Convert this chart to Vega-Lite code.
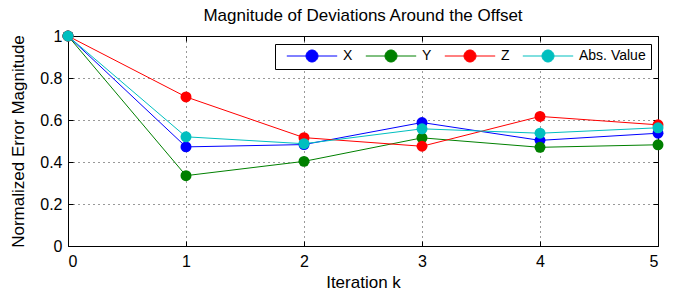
{
  "$schema": "https://vega.github.io/schema/vega-lite/v6.json",
  "width": 590,
  "height": 210,
  "autosize": {"type": "none"},
  "padding": {"left": 68, "top": 36, "right": 20, "bottom": 47},
  "background": "white",
  "title": {"text": "Magnitude of Deviations Around the Offset", "font": "Liberation Sans", "fontSize": 17, "fontWeight": "normal", "color": "black", "offset": 3},
  "config": {
    "view": {"stroke": "black", "strokeWidth": 1},
    "axis": {"labelFont": "Liberation Sans", "titleFont": "Liberation Sans", "labelFontSize": 16, "titleFontSize": 17, "titleFontWeight": "normal", "labelColor": "black", "titleColor": "black", "domainColor": "black", "tickColor": "black", "gridColor": "black", "gridDash": [1, 4], "gridOpacity": 0.8, "tickSize": -5, "domain": false}
  },
  "data": {"values": [
    {"k": 0, "s": "X", "v": 1}, {"k": 1, "s": "X", "v": 0.472}, {"k": 2, "s": "X", "v": 0.483}, {"k": 3, "s": "X", "v": 0.588}, {"k": 4, "s": "X", "v": 0.503}, {"k": 5, "s": "X", "v": 0.537},
    {"k": 0, "s": "Y", "v": 1}, {"k": 1, "s": "Y", "v": 0.335}, {"k": 2, "s": "Y", "v": 0.403}, {"k": 3, "s": "Y", "v": 0.515}, {"k": 4, "s": "Y", "v": 0.47}, {"k": 5, "s": "Y", "v": 0.482},
    {"k": 0, "s": "Z", "v": 1}, {"k": 1, "s": "Z", "v": 0.71}, {"k": 2, "s": "Z", "v": 0.516}, {"k": 3, "s": "Z", "v": 0.475}, {"k": 4, "s": "Z", "v": 0.617}, {"k": 5, "s": "Z", "v": 0.577},
    {"k": 0, "s": "Abs. Value", "v": 1}, {"k": 1, "s": "Abs. Value", "v": 0.52}, {"k": 2, "s": "Abs. Value", "v": 0.487}, {"k": 3, "s": "Abs. Value", "v": 0.558}, {"k": 4, "s": "Abs. Value", "v": 0.537}, {"k": 5, "s": "Abs. Value", "v": 0.563}
  ]},
  "layer": [
    {"mark": {"type": "line", "strokeWidth": 1},
      "encoding": {
        "x": {"field": "k", "type": "quantitative", "scale": {"domain": [0, 5], "nice": false, "zero": false},
          "axis": {"orient": "bottom", "title": "Iteration k", "values": [0, 1, 2, 3, 4, 5], "format": "d", "labelPadding": 12, "titlePadding": 5, "grid": true}},
        "y": {"field": "v", "type": "quantitative", "scale": {"domain": [0, 1], "nice": false},
          "axis": {"orient": "left", "title": "Normalized Error Magnitude", "values": [0, 0.2, 0.4, 0.6, 0.8, 1], "labelPadding": 11, "titlePadding": 12, "grid": true, "labelExpr": "datum.value == 0 || datum.value == 1 ? format(datum.value, 'd') : format(datum.value, '.1f')"}},
        "color": {"field": "s", "type": "nominal",
          "scale": {"domain": ["X", "Y", "Z", "Abs. Value"], "range": ["#0000ff", "#008000", "#ff0000", "#00bfbf"]},
          "legend": {"title": null, "orient": "none", "legendX": 207, "legendY": 8, "direction": "horizontal",
            "labelFont": "Liberation Sans", "labelFontSize": 14, "labelColor": "black", "labelOffset": 24,
            "symbolType": "M-4.2,0H4.2M1,0A1,1 0 1,1 -1,0A1,1 0 1,1 1,0Z", "symbolSize": 144, "symbolStrokeWidth": 1, "symbolOffset": 25,
            "columnPadding": 6, "padding": 5, "strokeColor": "black", "fillColor": "white",
            "encode": {"symbols": {"update": {"fill": {"scale": "color", "field": "value"}, "stroke": {"scale": "color", "field": "value"}, "opacity": {"value": 1}}}}}},
        "order": {"field": "k"}
      }},
    {"mark": {"type": "point", "filled": true, "size": 120, "opacity": 1, "shape": "circle"},
      "encoding": {
        "x": {"field": "k", "type": "quantitative", "axis": null},
        "y": {"field": "v", "type": "quantitative", "axis": null},
        "color": {"field": "s", "type": "nominal"}
      }},
    {"mark": {"type": "point", "opacity": 0},
      "encoding": {
        "x": {"field": "k", "type": "quantitative", "axis": {"orient": "top", "values": [0, 1, 2, 3, 4, 5], "labels": false, "title": null, "grid": false}},
        "y": {"field": "v", "type": "quantitative", "axis": {"orient": "right", "values": [0, 0.2, 0.4, 0.6, 0.8, 1], "labels": false, "title": null, "grid": false}}
      }}
  ],
  "resolve": {"axis": {"x": "independent", "y": "independent"}}
}
